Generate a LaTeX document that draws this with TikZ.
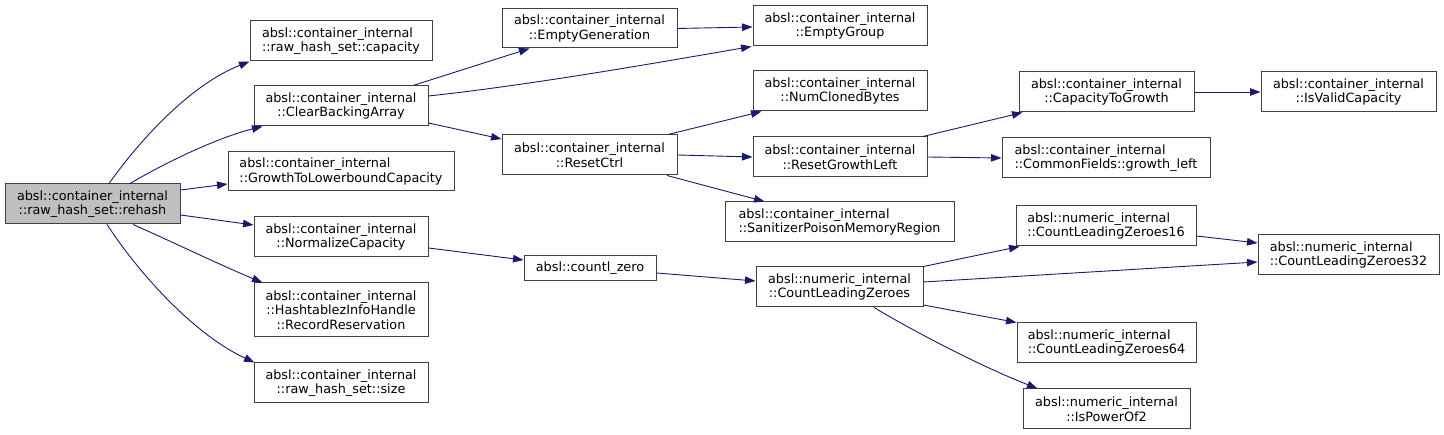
\documentclass[tikz,border=0pt]{standalone}
\usepackage{fontspec}
\setmainfont{DejaVu Sans}
\usetikzlibrary{arrows.meta}
\definecolor{edgeblue}{HTML}{191970}
\definecolor{boxline}{HTML}{404040}
\definecolor{mainfill}{HTML}{BFBFBF}
\tikzset{
  fn/.style={draw=boxline, line width=1pt, fill=white, inner sep=0pt, align=center,
    font=\fontsize{12.8}{14.5}\selectfont},
  fnl/.style={fn, align=left},
  call/.style={draw=edgeblue, line width=0.9pt, -{Triangle[length=10.5pt,width=7.5pt]}, fill=none},
}
\begin{document}
\begin{tikzpicture}[x=1pt,y=1pt]
\useasboundingbox (0,0) rectangle (1444,435);
% nodes
\node[fn, fill=mainfill, minimum width=175, minimum height=40] (rehash) at (92.5,231) {absl::container\_internal\\::raw\_hash\_set::rehash};
\node[fnl, minimum width=182, minimum height=40] (capacity) at (341,394) {absl::container\_internal\\::raw\_hash\_set::capacity};
\node[fn, minimum width=174, minimum height=40] (clear) at (341,329) {absl::container\_internal\\::ClearBackingArray};
\node[fnl, minimum width=226, minimum height=39] (growth) at (341,263.5) {absl::container\_internal\\::GrowthToLowerboundCapacity};
\node[fn, minimum width=174, minimum height=40] (normalize) at (341,198) {absl::container\_internal\\::NormalizeCapacity};
\node[fn, minimum width=174, minimum height=54] (record) at (341,125) {absl::container\_internal\\::HashtablezInfoHandle\\::RecordReservation};
\node[fn, minimum width=174, minimum height=40] (size) at (341,52) {absl::container\_internal\\::raw\_hash\_set::size};
\node[fn, minimum width=175, minimum height=39] (emptygen) at (589.5,406.5) {absl::container\_internal\\::EmptyGeneration};
\node[fn, minimum width=174, minimum height=40] (emptygroup) at (840,409) {absl::container\_internal\\::EmptyGroup};
\node[fn, minimum width=174, minimum height=40] (numcloned) at (840,344) {absl::container\_internal\\::NumClonedBytes};
\node[fn, minimum width=175, minimum height=40] (resetctrl) at (589.5,280) {absl::container\_internal\\::ResetCtrl};
\node[fn, minimum width=174, minimum height=40] (resetgrowth) at (840,278) {absl::container\_internal\\::ResetGrowthLeft};
\node[fnl, minimum width=229, minimum height=40] (sanitizer) at (839.5,213) {absl::container\_internal\\::SanitizerPoisonMemoryRegion};
\node[fn, minimum width=175, minimum height=40] (captogrowth) at (1106.5,343) {absl::container\_internal\\::CapacityToGrowth};
\node[fn, minimum width=175, minimum height=40] (isvalid) at (1348.5,343) {absl::container\_internal\\::IsValidCapacity};
\node[fnl, minimum width=208, minimum height=40] (growthleft) at (1106,277) {absl::container\_internal\\::CommonFields::growth\_left};
\node[fnl, minimum width=180, minimum height=40] (clz16) at (1106,209) {absl::numeric\_internal\\::CountLeadingZeroes16};
\node[fn, minimum width=132, minimum height=25] (countl) at (590,166.5) {absl::countl\_zero};
\node[fn, minimum width=167, minimum height=40] (clz) at (839.5,148) {absl::numeric\_internal\\::CountLeadingZeroes};
\node[fnl, minimum width=181, minimum height=40] (clz32) at (1348.5,180) {absl::numeric\_internal\\::CountLeadingZeroes32};
\node[fnl, minimum width=179, minimum height=40] (clz64) at (1106.5,92) {absl::numeric\_internal\\::CountLeadingZeroes64};
\node[fn, minimum width=167, minimum height=40] (pow2) at (1106.5,26) {absl::numeric\_internal\\::IsPowerOf2};
% edges
\draw[call] ([xshift=16.5]rehash.north) .. controls (140,295) and (190,350) .. (capacity.south west);
\draw[call] ([xshift=37.5]rehash.north) .. controls (170,275) and (220,298) .. ([xshift=9]clear.south west);
\draw[call] ([yshift=14]rehash.east) -- ([yshift=-12.5]growth.west);
\draw[call] ([yshift=-11]rehash.east) -- ([yshift=12]normalize.west);
\draw[call] ([xshift=40.5]rehash.south) .. controls (175,192) and (220,170) .. ([xshift=9]record.north west);
\draw[call] ([xshift=14.5]rehash.south) .. controls (140,160) and (195,100) .. ([xshift=1]size.north west);
\draw[call] ([xshift=72]clear.north) -- ([xshift=28]emptygen.south west);
\draw[call] ([yshift=10]clear.east) .. controls (530,350) and (650,371) .. ([xshift=-1]emptygroup.south west);
\draw[call] ([yshift=-17]clear.east) -- ([yshift=16]resetctrl.west);
\draw[call] (emptygen.east) -- ([yshift=-1]emptygroup.west);
\draw[call] ([xshift=78.5]resetctrl.north) -- ([xshift=9]numcloned.south west);
\draw[call] (resetctrl.east) -- (resetgrowth.west);
\draw[call] ([xshift=77.5]resetctrl.south) -- ([xshift=40]sanitizer.north west);
\draw[call] ([xshift=83]resetgrowth.north) -- ([xshift=4]captogrowth.south west);
\draw[call] (resetgrowth.east) -- (growthleft.west);
\draw[call] (captogrowth.east) -- (isvalid.west);
\draw[call] ([yshift=-11]normalize.east) -- ([yshift=8.5]countl.west);
\draw[call] ([yshift=-4.5]countl.east) -- ([yshift=6]clz.west);
\draw[call] (clz.north east) -- ([xshift=4]clz16.south west);
\draw[call] ([yshift=5]clz.east) -- ([yshift=-7]clz32.west);
\draw[call] ([yshift=-18]clz.east) -- (clz64.north west);
\draw[call] ([xshift=34.5]clz.south) .. controls (920,100) and (985,67) .. ([xshift=15]pow2.north west);
\draw[call] ([yshift=-10]clz16.east) -- ([yshift=12]clz32.west);
\end{tikzpicture}
\end{document}
